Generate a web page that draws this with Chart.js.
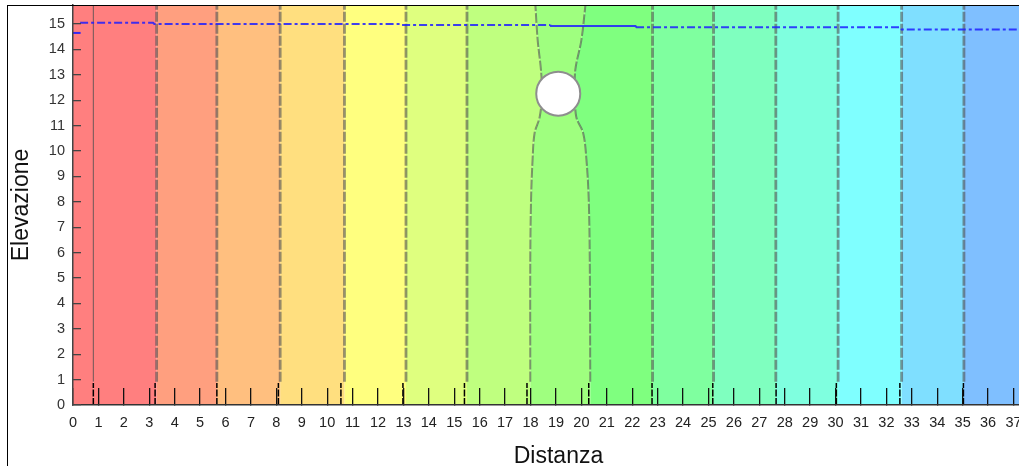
<!DOCTYPE html>
<html><head><meta charset="utf-8">
<script src="https://cdn.jsdelivr.net/npm/chart.js@4/dist/chart.umd.min.js"></script>
<style>
html,body{margin:0;padding:0;background:#fff;overflow:hidden;width:1019px;height:466px}
#wrap{position:relative;width:1019px;height:466px;overflow:hidden}
canvas{position:absolute;left:0;top:0}
#frame{position:absolute;left:7px;top:5px;width:2000px;height:2000px;border-left:1px solid #000;border-top:1px solid #000;pointer-events:none}
</style></head>
<body><div id="wrap"><canvas id="c" width="1044" height="466"></canvas><div id="frame"></div></div>
<script>
// ---- data ----
const xTickValues = [0,1,2,3,4,5,6,7,8,9,10,11,12,13,14,15,16,17,18,19,20,21,22,23,24,25,26,27,28,29,30,31,32,33,34,35,36,37];
const yTickValues = [0,1,2,3,4,5,6,7,8,9,10,11,12,13,14,15];
const xRange = [0, 38.2];
const yRange = [0, 15.75];

// straight contour lines (x position); null = curved line given below
const contourX = [0.8, 3.29, 5.66, 8.15, 10.68, 13.1, 15.5, null, null, 22.8, 25.2, 27.65, 30.1, 32.6, 35.05];
const straightY = [0, 0.92, 15.75];
// curved contour lines around the circle
const curveY      = [0, 0.92, 5.71, 8.07, 9.65, 10.71, 11.34, 12.27, 13.19, 14.37, 15.75];
const curveLeftX  = [17.99, 17.99, 17.99, 18.02, 18.08, 18.16, 18.36, 18.45, 18.41, 18.28, 18.19];
const curveRightX = [20.35, 20.35, 20.33, 20.29, 20.2, 20.07, 19.8, 19.75, 19.76, 20.0, 20.16];
// band colours, left to right
const bandColors = ['#FF7F7F','#FF7F7F','#FF9F7F','#FFBF7F','#FFDF7F','#FFFF7F','#DFFF7F','#BFFF7F',
                    '#9FFF7F','#7FFF7F','#7FFF9F','#7FFFBF','#7FFFDF','#7FFFFF','#7FDFFF','#7FBFFF'];
// short black markers on the x axis
const markerX = [0.8, 3.23, 5.66, 8.08, 10.54, 12.98, 15.4, 17.86, 20.29, 22.78, 25.17, 27.66, 30.03, 32.53, 35.03];
const markerTop = 0.87;
// blue dash-dot line near the top
const blueX = [0.28, 3.15, 3.2, 12.87, 12.9, 18.78, 18.8, 22.13, 22.15, 32.56, 32.6, 38.2];
const blueY = [15.05, 15.05, 15.0, 15.0, 14.96, 14.96, 14.92, 14.92, 14.87, 14.87, 14.79, 14.79];
const blueStubX = [0, 0.3];
const blueStubY = [14.65, 14.65];
// circle
const circleX = [19.09];
const circleY = [12.26];

// ---- build datasets ----
function pts(xs, ys){ return xs.map((x,i)=>({x:x, y:ys[i]})); }
function linePts(i){
  if (contourX[i] !== null) return straightY.map(y=>({x:contourX[i], y:y}));
  return pts(i === 7 ? curveLeftX : curveRightX, curveY);
}

const datasets = [];
datasets.push({label:'circle', data: pts(circleX, circleY), showLine:false, pointRadius:22, pointHoverRadius:22, pointBorderWidth:2,
  pointBorderColor:'#8e8e8e', pointBackgroundColor:'#ffffff', fill:false});
datasets.push({label:'dot', data: pts(circleX, circleY), showLine:false, pointRadius:1.2, pointBorderWidth:0,
  pointBackgroundColor:'#ff8a8a', fill:false});
datasets.push({label:'stub', data: pts(blueStubX, blueStubY), borderColor:'rgba(30,30,255,0.9)', borderWidth:2, pointRadius:0, fill:false});
datasets.push({label:'blue', data: pts(blueX, blueY), borderColor:'rgba(30,30,255,0.85)', borderWidth:2, pointRadius:0, fill:false,
  borderDash:[8,3,3,3],
  segment:{borderDash: ctx => (ctx.p0.parsed.x >= 18.7 && ctx.p1.parsed.x <= 22.2) ? [] : undefined}});
markerX.forEach(x => datasets.push({label:'m', data:[{x:x,y:0},{x:x,y:markerTop}], borderColor:'#000', borderWidth:1.5,
  borderDash:[7,1.5], pointRadius:0, fill:false}));
contourX.forEach((cx, i) => {
  const d = linePts(i).filter(p => p.y >= 0.92);
  const first = i === 0;
  const curved = cx === null;
  datasets.push({label:'c', data:d, pointRadius:0, fill:false, tension: curved ? 0.35 : 0,
    borderColor: first ? 'rgba(60,60,60,0.75)' : 'rgba(80,80,80,0.6)',
    borderWidth: first ? 1 : (curved ? 2 : 2.8),
    borderDash: first ? [] : [10,2]});
});
// boundaries for the coloured fills (contiguous)
datasets.push({label:'b0', data:[{x:xRange[0],y:yRange[0]},{x:xRange[0],y:yRange[1]}], borderWidth:0, pointRadius:0, fill:false});
contourX.forEach((cx, i) => {
  datasets.push({label:'b', data: linePts(i), borderWidth:0, pointRadius:0,
    tension: cx === null ? 0.35 : 0, fill:'-1', backgroundColor: bandColors[i]});
});
datasets.push({label:'bEnd', data:[{x:xRange[1],y:yRange[0]},{x:xRange[1],y:yRange[1]}], borderWidth:0, pointRadius:0,
  fill:'-1', backgroundColor: bandColors[15]});

Chart.defaults.font.family = "'Liberation Sans', Arial, sans-serif";

function noPad(s){
  s.paddingLeft = 0; s.paddingRight = 0; s.paddingTop = 0; s.paddingBottom = 0;
}

new Chart(document.getElementById('c'), {
  type:'line',
  data:{datasets: datasets},
  options:{
    responsive:false, animation:false, events:[], indexAxis:'y',
    layout:{autoPadding:false, padding:{top:5, left:0, right:0, bottom:0}},
    plugins:{legend:{display:false}, tooltip:{enabled:false}},
    scales:{
      x:{type:'linear', position:'bottom', min:xRange[0], max:xRange[1],
        afterFit: s => { s.height = 61; noPad(s); },
        afterBuildTicks: s => { s.ticks = xTickValues.map(v=>({value:v})); },
        ticks:{autoSkip:false, maxRotation:0, minRotation:0, padding:26, color:'#222', font:{size:14.5},
          callback: v => String(v)},
        grid:{z:1, drawOnChartArea:false, drawTicks:true, tickLength:-17, color:'#111', lineWidth:1.3},
        border:{z:1, display:true, color:'#333', width:1.5},
        title:{display:true, text:'Distanza', color:'#111', font:{size:23, lineHeight:0.8}, padding:{top:0,bottom:0}}
      },
      y:{type:'linear', position:'left', min:yRange[0], max:yRange[1],
        afterFit: s => { s.width = 73; noPad(s); },
        afterBuildTicks: s => { s.ticks = yTickValues.map(v=>({value:v})); },
        ticks:{autoSkip:false, padding:16, color:'#333', font:{size:14.5}, callback: v => String(v)},
        grid:{z:1, drawOnChartArea:false, drawTicks:true, tickLength:-8, color:'#444', lineWidth:1.3},
        border:{z:1, display:true, color:'#444', width:1.5},
        title:{display:true, text:'Elevazione', color:'#111', font:{size:23}, padding:{top:8,bottom:0}}
      }
    }
  }
});
</script>
</body></html>
